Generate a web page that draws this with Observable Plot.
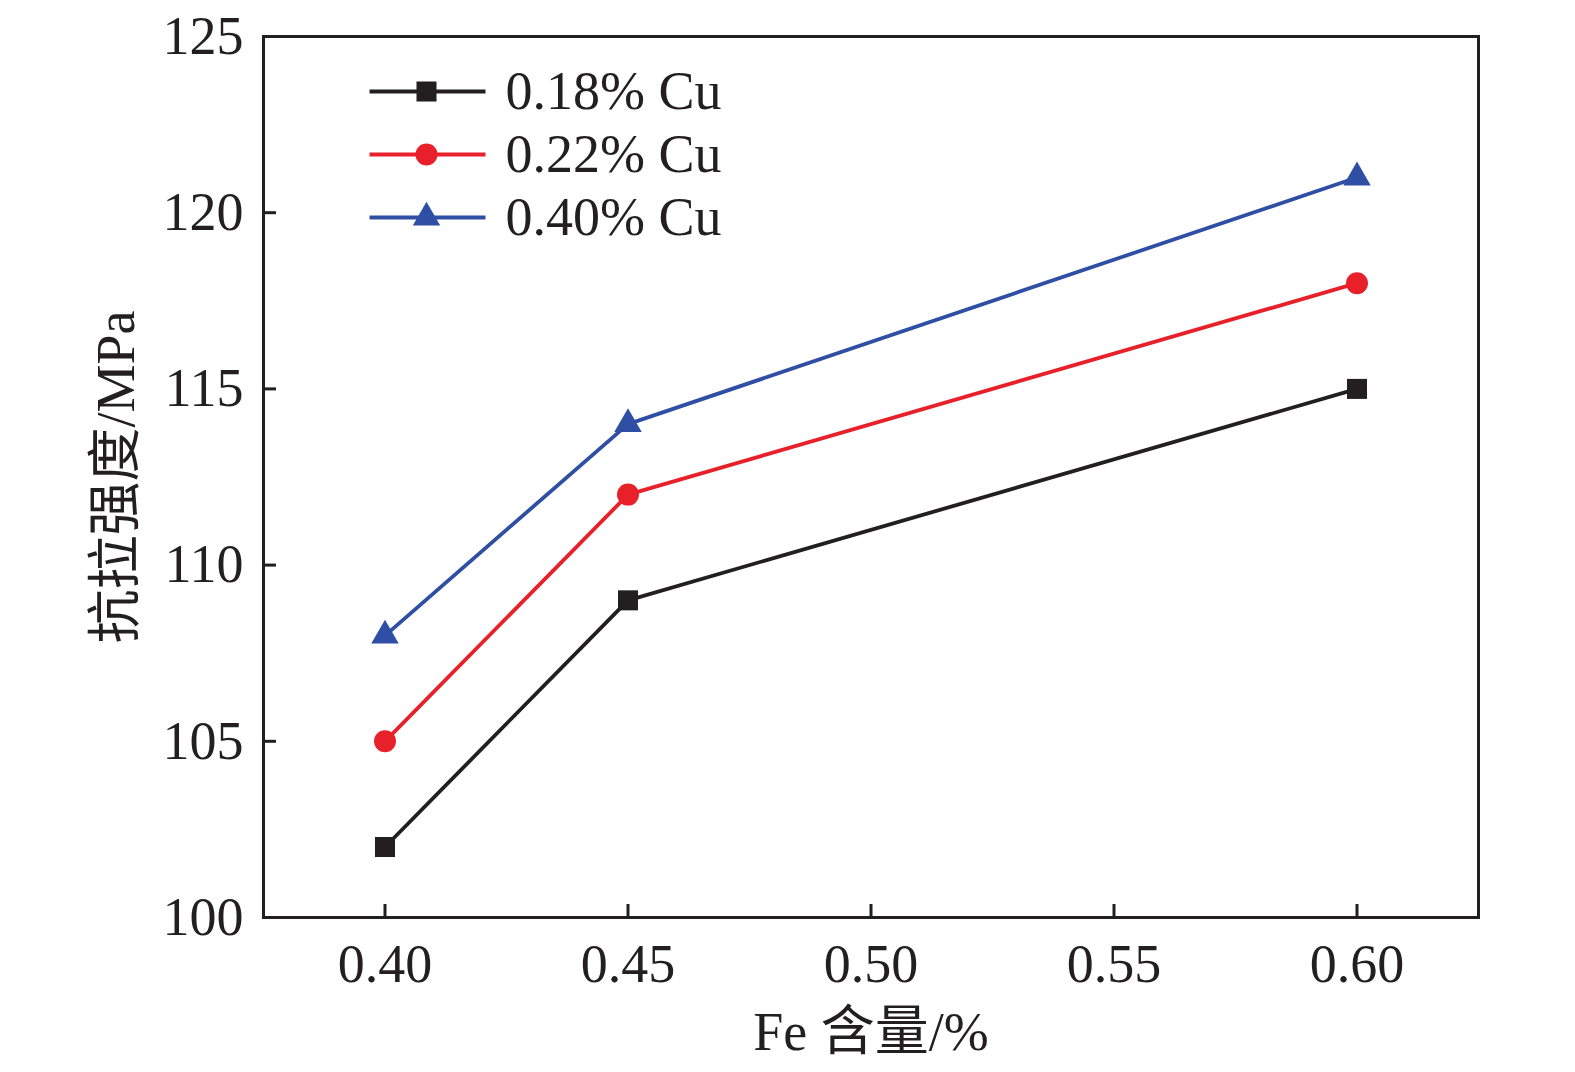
<!DOCTYPE html>
<html><head><meta charset="utf-8">
<script src="https://cdn.jsdelivr.net/npm/d3@7"></script>
<script src="https://cdn.jsdelivr.net/npm/@observablehq/plot@0.6"></script>
<style>html,body{margin:0;padding:0;background:#fff;overflow:hidden}svg{display:block;max-width:none!important}</style>
</head><body><div id="chart"></div>
<script>
const feContent = [0.40, 0.45, 0.60];
const seriesNames = ["0.18% Cu", "0.22% Cu", "0.40% Cu"];
const cu018 = [102, 109, 115];
const cu022 = [105, 112, 118];
const cu040 = [108, 114, 121];
const xTicks = [0.40, 0.45, 0.50, 0.55, 0.60];
const yTicks = [100, 105, 110, 115, 120, 125];

const colors = ["#231f20", "#e8202a", "#2e4fa3"];
const symbols = ["square", "circle", "triangle"];
const radii = [11.3, 11, 10.2];
const values = [cu018, cu022, cu040];

const data = seriesNames.flatMap((s, i) => feContent.map((x, j) => ({series: s, x, y: values[i][j]})));

const W = 1575, H = 1072;
const mL = 263, mR = 97, mT = 36, mB = 155;
const pw = W - mL - mR, ph = H - mT - mB;
const font = "'Liberation Serif', 'Times New Roman', 'Noto Sans CJK SC', serif";
const ink = "#231f20";

const marks = [];
// inward ticks
marks.push(Plot.ruleX(xTicks, {x: d => d, insetTop: ph - 13, stroke: ink, strokeWidth: 3}));
marks.push(Plot.ruleY(yTicks.slice(1, -1), {y: d => d, insetRight: pw - 13, stroke: ink, strokeWidth: 3}));
marks.push(Plot.axisX(xTicks, {tickSize: 0, tickPadding: 26, tickFormat: d3.format(".2f"), label: "Fe 含量/%", labelArrow: "none", labelAnchor: "center", labelOffset: 132, fill: ink}));
marks.push(Plot.axisY(yTicks, {tickSize: 0, tickPadding: 20, label: "抗拉强度/MPa", labelArrow: "none", labelAnchor: "center", labelOffset: 168, fill: ink}));
seriesNames.forEach((s, i) => {
  const d = data.filter(r => r.series === s);
  marks.push(Plot.line(d, {x: "x", y: "y", stroke: colors[i], strokeWidth: 3.8}));
});
seriesNames.forEach((s, i) => {
  const d = data.filter(r => r.series === s);
  marks.push(Plot.dot(d, {x: "x", y: "y", symbol: () => symbols[i], r: radii[i], fill: colors[i], stroke: "none"}));
});
// legend
const lineSym = {draw(ctx) { ctx.moveTo(-58, 0); ctx.lineTo(58, 0); }};
seriesNames.forEach((s, i) => {
  const dy = 55 + i * 63;
  marks.push(Plot.dot([s], {frameAnchor: "top-left", dx: 164, dy, symbol: lineSym, r: 1, stroke: colors[i], strokeWidth: 3.8, fill: "none"}));
  marks.push(Plot.dot([s], {frameAnchor: "top-left", dx: 163, dy, symbol: symbols[i], r: radii[i], fill: colors[i], stroke: "none"}));
  marks.push(Plot.text([s], {frameAnchor: "top-left", dx: 242, dy, text: d => d, textAnchor: "start", lineAnchor: "middle", fill: ink, fontSize: 54}));
});
marks.push(Plot.frame({stroke: ink, strokeWidth: 3}));

const chart = Plot.plot({
  width: W, height: H,
  marginLeft: mL, marginRight: mR, marginTop: mT, marginBottom: mB,
  style: {fontSize: "54px", fontFamily: font, background: "#fff", color: ink},
  x: {domain: [0.375, 0.625]},
  y: {domain: [100, 125]},
  marks
});
document.getElementById("chart").appendChild(chart);
</script>
</body></html>
